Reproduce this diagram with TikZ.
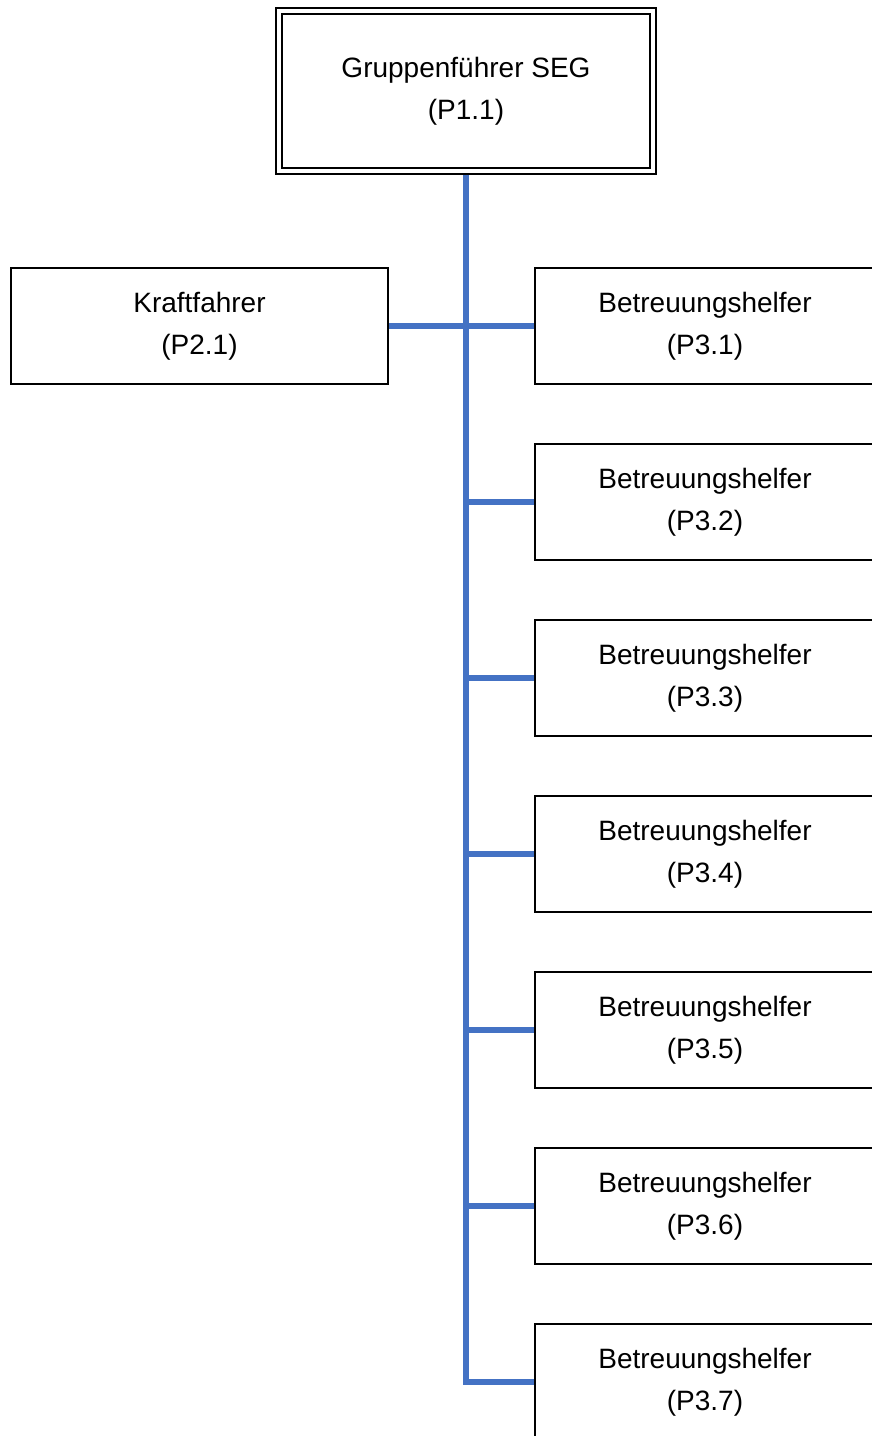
\documentclass[tikz,border=0pt]{standalone}
\usepackage{fontspec}
\setmainfont{Liberation Sans}
\definecolor{linkblue}{HTML}{4472C4}
\begin{document}
\begin{tikzpicture}[x=1pt,y=1pt,node distance=176pt,
    box node/.style={rectangle,draw,line width=2pt,align=center,
      font=\fontsize{28}{42}\selectfont},
    head node/.style={box node,double,double distance=3.5pt,outer sep=4pt,
      minimum width=374pt,minimum height=160pt},
    main node/.style={box node,minimum width=340pt,minimum height=116pt},
    link/.style={draw=linkblue,line width=5.5pt}]

    \useasboundingbox (0,0) rectangle (872,-1436);

    \node[head node] (p11) at (466,-91) {Gruppenführer SEG\\(P1.1)};
    \node[box node,minimum width=377pt,minimum height=116pt] (p21) at (199.5,-326) {Kraftfahrer\\(P2.1)};
    \node[main node] (p31) at (705,-326) {Betreuungshelfer\\(P3.1)};
    \node[main node] (p32) [below of=p31] {Betreuungshelfer\\(P3.2)};
    \node[main node] (p33) [below of=p32] {Betreuungshelfer\\(P3.3)};
    \node[main node] (p34) [below of=p33] {Betreuungshelfer\\(P3.4)};
    \node[main node] (p35) [below of=p34] {Betreuungshelfer\\(P3.5)};
    \node[main node] (p36) [below of=p35] {Betreuungshelfer\\(P3.6)};
    \node[main node] (p37) [below of=p36] {Betreuungshelfer\\(P3.7)};

    \path[link] (p11.south) |- (p37.west);
    \path[link] (p21.east) -- (p31.west);
    \path[link] (p11.south |- p32.west) -- (p32.west);
    \path[link] (p11.south |- p33.west) -- (p33.west);
    \path[link] (p11.south |- p34.west) -- (p34.west);
    \path[link] (p11.south |- p35.west) -- (p35.west);
    \path[link] (p11.south |- p36.west) -- (p36.west);
\end{tikzpicture}
\end{document}
